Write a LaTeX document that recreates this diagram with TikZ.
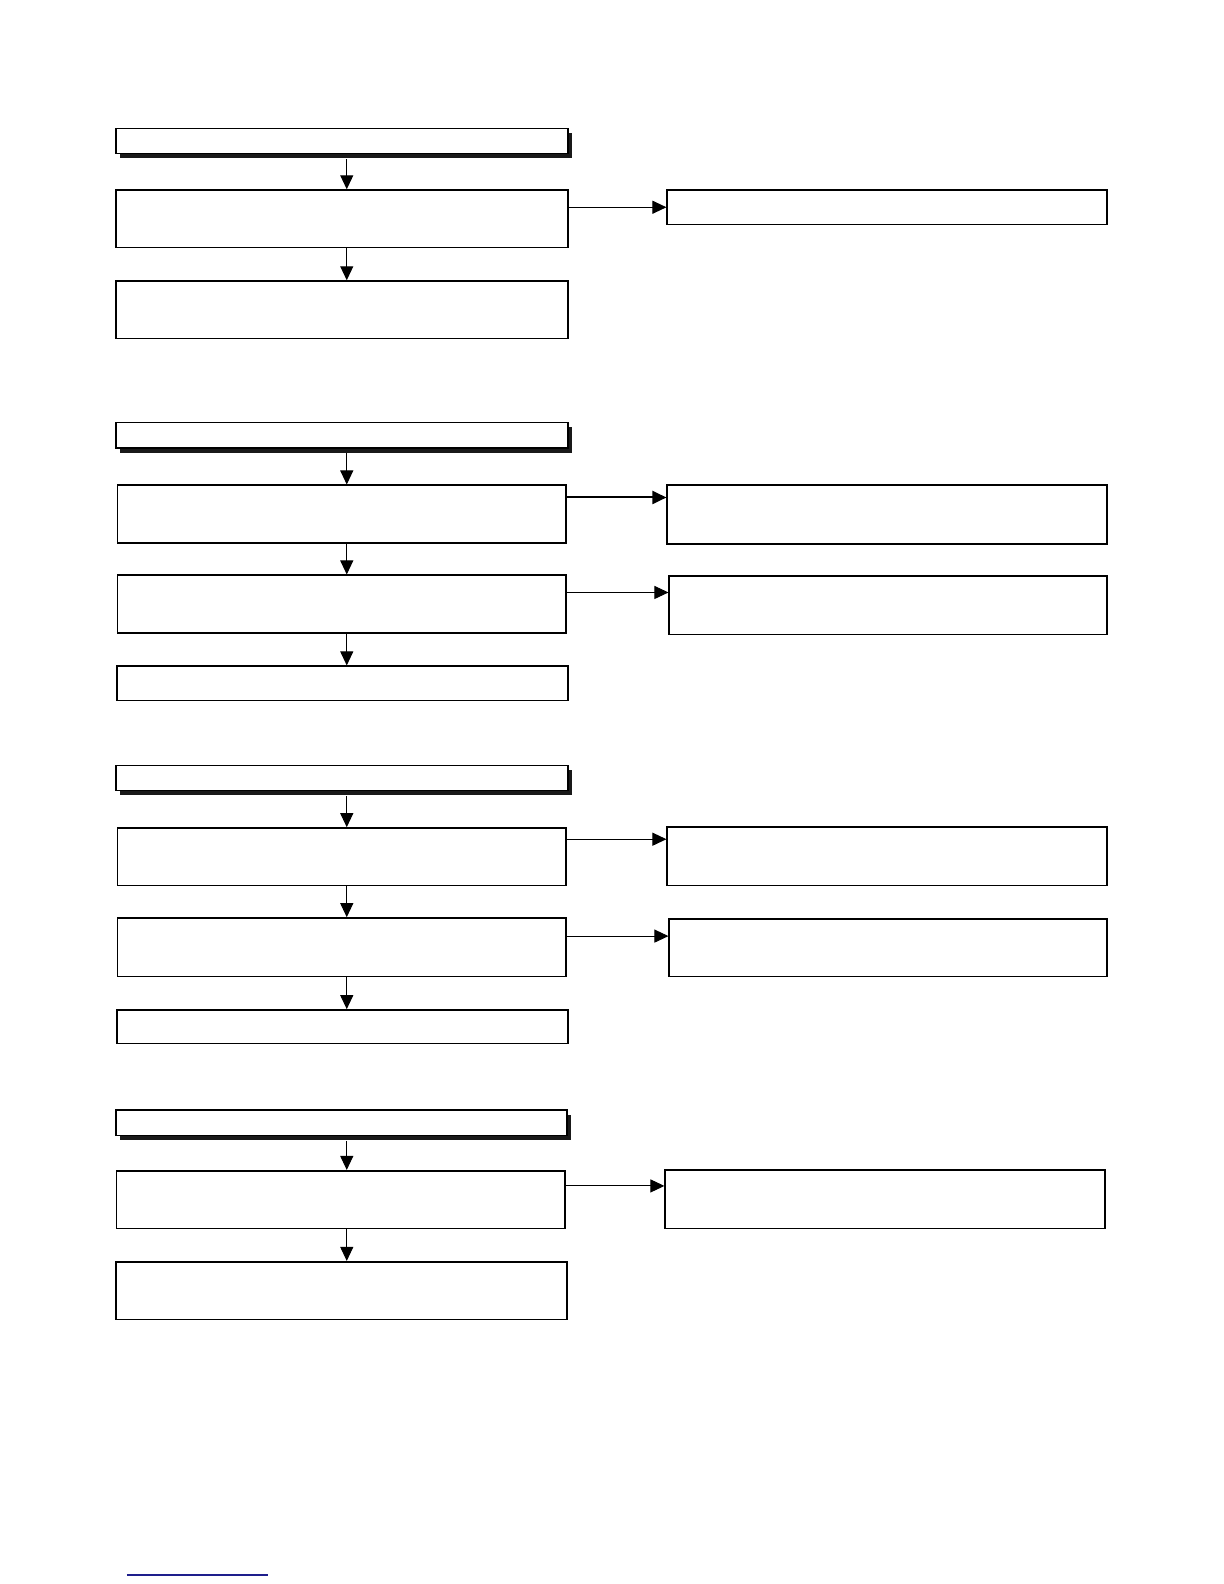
\documentclass[tikz,border=0pt]{standalone}
\usetikzlibrary{arrows.meta,shadows}
\definecolor{linkblue}{RGB}{30,30,140}
\begin{document}
\begin{tikzpicture}[x=0.5055pt,y=-0.5055pt]
        \tikzstyle{head} = [rectangle, draw=black, line width=0.8pt, fill=white, minimum width=226pt, minimum height=12.6pt, inner sep=0pt, drop shadow={shadow xshift=2pt, shadow yshift=-2.4pt, fill=black!90, opacity=1}]
        \tikzstyle{stepbox} = [rectangle, draw=black, line width=0.8pt, fill=white, minimum width=224.4pt, minimum height=28.8pt, inner sep=0pt]
        \tikzstyle{sidebox} = [rectangle, draw=black, line width=0.8pt, fill=white, minimum width=219.9pt, minimum height=29.3pt, inner sep=0pt]
        \tikzstyle{arrow} = [line width=0.5pt,->,>={Triangle[length=7pt,width=6.5pt]}]
        \useasboundingbox (0,0) rectangle (1210.7,1566.8);
        \coordinate (axis) at (343,0);
        % first block
        \node (h1) [head] at (338.5,139.5) {};
        \node (b11) [stepbox, minimum width=226pt] at (338.5,216.5) {};
        \node (r11) [sidebox, minimum height=17.2pt] at (877.5,205) {};
        \node (b12) [stepbox, minimum width=226pt] at (338.5,306.5) {};
        \draw[arrow] ([yshift=-2.4pt]h1.south -| axis) to (b11.north -| axis);
        \draw[arrow] (b11.south -| axis) to (b12.north -| axis);
        \draw[arrow] (b11.east |- r11.west) to (r11.west);
        % second block
        \node (h2) [head] at (338.5,430.5) {};
        \node (b21) [stepbox] at (338,508.5) {};
        \node (r21) [sidebox] at (877.5,509) {};
        \node (b22) [stepbox] at (338,597.5) {};
        \node (r22) [sidebox, minimum width=218.9pt] at (878.5,598.5) {};
        \node (b23) [stepbox, minimum width=225.5pt, minimum height=17.2pt] at (339,676) {};
        \draw[arrow] ([yshift=-2.4pt]h2.south -| axis) to (b21.north -| axis);
        \draw[arrow] (b21.south -| axis) to (b22.north -| axis);
        \draw[arrow] (b22.south -| axis) to (b23.north -| axis);
        \draw[arrow, line width=1pt] ([yshift=8.3pt]b21.east) to ([yshift=8.3pt]b21.east -| r21.west);
        \draw[arrow] ([yshift=5.8pt]b22.east) to ([yshift=5.8pt]b22.east -| r22.west);
        % third block
        \node (h3) [head] at (338.5,769.5) {};
        \node (b31) [stepbox] at (338,847.5) {};
        \node (r31) [sidebox] at (877.5,847) {};
        \node (b32) [stepbox, minimum height=29.3pt] at (338,937) {};
        \node (r32) [sidebox, minimum width=218.9pt, minimum height=28.8pt] at (878.5,937.5) {};
        \node (b33) [stepbox, minimum width=225.5pt, minimum height=16.7pt] at (339,1015.5) {};
        \draw[arrow] ([yshift=-2.4pt]h3.south -| axis) to (b31.north -| axis);
        \draw[arrow] (b31.south -| axis) to (b32.north -| axis);
        \draw[arrow] (b32.south -| axis) to (b33.north -| axis);
        \draw[arrow] ([yshift=8.8pt]b31.east) to ([yshift=8.8pt]b31.east -| r31.west);
        \draw[arrow] ([yshift=5.6pt]b32.east) to ([yshift=5.6pt]b32.east -| r32.west);
        % fourth block
        \node (h4) [head, minimum width=225.5pt] at (338,1110.5) {};
        \node (b41) [stepbox] at (337,1186.5) {};
        \node (r41) [sidebox] at (875.5,1186) {};
        \node (b42) [stepbox, minimum width=225.5pt] at (338,1276.5) {};
        \draw[arrow] ([yshift=-2.4pt]h4.south -| axis) to (b41.north -| axis);
        \draw[arrow] (b41.south -| axis) to (b42.north -| axis);
        \draw[arrow] ([yshift=6.8pt]b41.east) to ([yshift=6.8pt]b41.east -| r41.west);
        % footer rule
        \draw[linkblue, line width=0.7pt] (125.6,1558) -- (265,1558);
\end{tikzpicture}
\end{document}
